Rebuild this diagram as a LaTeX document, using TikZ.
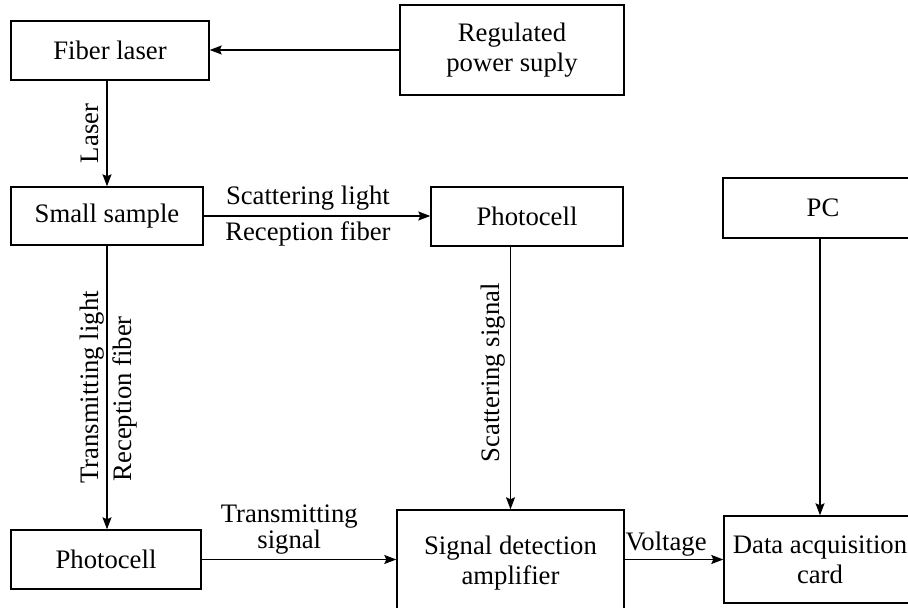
\documentclass[tikz,border=0pt]{standalone}
\usepackage{fontspec}
\setmainfont{Liberation Serif}
\usetikzlibrary{arrows.meta}

\begin{document}
\begin{tikzpicture}[x=1pt, y=1pt,
        font=\fontsize{26.7}{30}\selectfont,
        block/.style={draw, line width=1.4pt, align=center, inner sep=0pt},
        flow/.style={-{Stealth[length=12pt,width=9pt,inset=2pt]}, line width=1.4pt},
        lab/.style={inner sep=5pt}]
        % Page frame (boxes on the right and bottom run past it)
        \clip (0,0) rectangle (908,608);

        % Top row
        \node[block, minimum width=198pt, minimum height=59pt] (fiber) at (110,557.5) {Fiber laser};
        \node[block, minimum width=224pt, minimum height=90pt] (power) at (512,558) {Regulated\\power suply};

        % Middle row
        \node[block, minimum width=192pt, minimum height=58pt] (sample) at (107,392) {Small sample};
        \node[block, minimum width=192pt, minimum height=59pt] (photoA) at (527,391.5) {Photocell};
        \node[block, minimum width=200pt, minimum height=60pt] (pc) at (823,400) {PC};

        % Bottom row
        \node[block, minimum width=190pt, minimum height=59pt] (photoB) at (106,48.5) {Photocell};
        \node[block, minimum width=227pt, minimum height=106pt] (amp) at (510.5,45) {Signal detection\\amplifier};
        \node[block, minimum width=192pt, minimum height=87pt] (daq) at (820,48.5) {Data acquisition\\card};

        % Connectors
        \draw[flow] (power.west) -- (fiber.east |- power.west);
        \draw[flow] (fiber.south -| sample.north) -- node[lab, rotate=90, above, inner sep=8pt] (laserlab) {Laser} (sample.north);
        \draw[flow] (sample.east) -- node[lab, above, pos=0.46] (scatlab) {Scattering light}
            node[lab, below, pos=0.46] (recAlab) {Reception fiber} (sample.east -| photoA.west);
        \draw[flow] (sample.south) -- node[lab, rotate=90, above, pos=0.5, inner sep=2pt] (translab) {Transmitting light}
            node[lab, rotate=90, below, pos=0.54] (recBlab) {Reception fiber} (photoB.north -| sample.south);
        \draw[flow] (photoA.south -| amp.north) -- node[lab, rotate=90, above, pos=0.48] (scatsiglab) {Scattering signal} (amp.north);
        \draw[flow] (pc.south -| daq.north) -- (daq.north);
        \draw[flow] (photoB.east) -- node[lab, above, pos=0.45, align=center, font=\fontsize{26.7}{24}\selectfont] (transiglab) {Transmitting\\signal} (photoB.east -| amp.west);
        \draw[flow] (amp.east |- daq.west) -- node[lab, above, pos=0.42, inner sep=3pt] (voltlab) {Voltage} (daq.west);
\end{tikzpicture}
\end{document}
